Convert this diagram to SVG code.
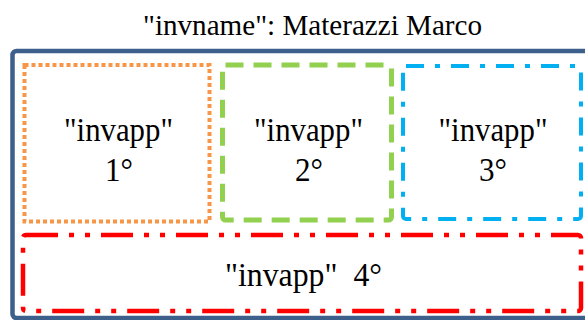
<svg xmlns="http://www.w3.org/2000/svg" width="585" height="320" viewBox="0 0 585 320">
  <style>
    .t { font-family: "Liberation Serif", "DejaVu Serif", serif; fill: #000; text-anchor: middle; }
    .box { fill: none; }
  </style>
  <rect width="585" height="320" fill="#fff"/>
  <g id="title">
    <text class="t" x="312.5" y="35" font-size="30" textLength="339" lengthAdjust="spacingAndGlyphs">"invname": Materazzi Marco</text>
  </g>
  <g id="outer">
    <rect class="box" x="12.5" y="51" width="600" height="267" rx="4" stroke="#3C5F8C" stroke-width="4.5"/>
  </g>
  <g id="invapp1">
    <rect class="box" x="24.5" y="65" width="185" height="156.5" stroke="#F79646" stroke-width="4" stroke-dasharray="4 3"/>
    <text class="t" x="118.5" y="141" font-size="34" textLength="109" lengthAdjust="spacingAndGlyphs">"invapp"</text>
    <text class="t" x="119" y="181" font-size="34" textLength="28" lengthAdjust="spacingAndGlyphs">1°</text>
  </g>
  <g id="invapp2">
    <rect class="box" x="222.5" y="65" width="169" height="155" rx="3" stroke="#92D050" stroke-width="5" stroke-dasharray="18 10"/>
    <text class="t" x="308.5" y="141" font-size="34" textLength="109" lengthAdjust="spacingAndGlyphs">"invapp"</text>
    <text class="t" x="309" y="181" font-size="34" textLength="28" lengthAdjust="spacingAndGlyphs">2°</text>
  </g>
  <g id="invapp3">
    <rect class="box" x="403" y="66" width="178" height="153" rx="3" stroke="#00B0F0" stroke-width="4" stroke-dasharray="18 11 5 11"/>
    <text class="t" x="493" y="141" font-size="34" textLength="109" lengthAdjust="spacingAndGlyphs">"invapp"</text>
    <text class="t" x="493" y="181" font-size="34" textLength="28" lengthAdjust="spacingAndGlyphs">3°</text>
  </g>
  <g id="invapp4">
    <rect class="box" x="23" y="235" width="558" height="76" rx="3" stroke="#FF0000" stroke-width="4.5" stroke-dasharray="32 11 5 11 5 11"/>
    <text class="t" x="303.5" y="286" font-size="34" textLength="157" lengthAdjust="spacingAndGlyphs" style="white-space:pre">"invapp"  4°</text>
  </g>
</svg>
